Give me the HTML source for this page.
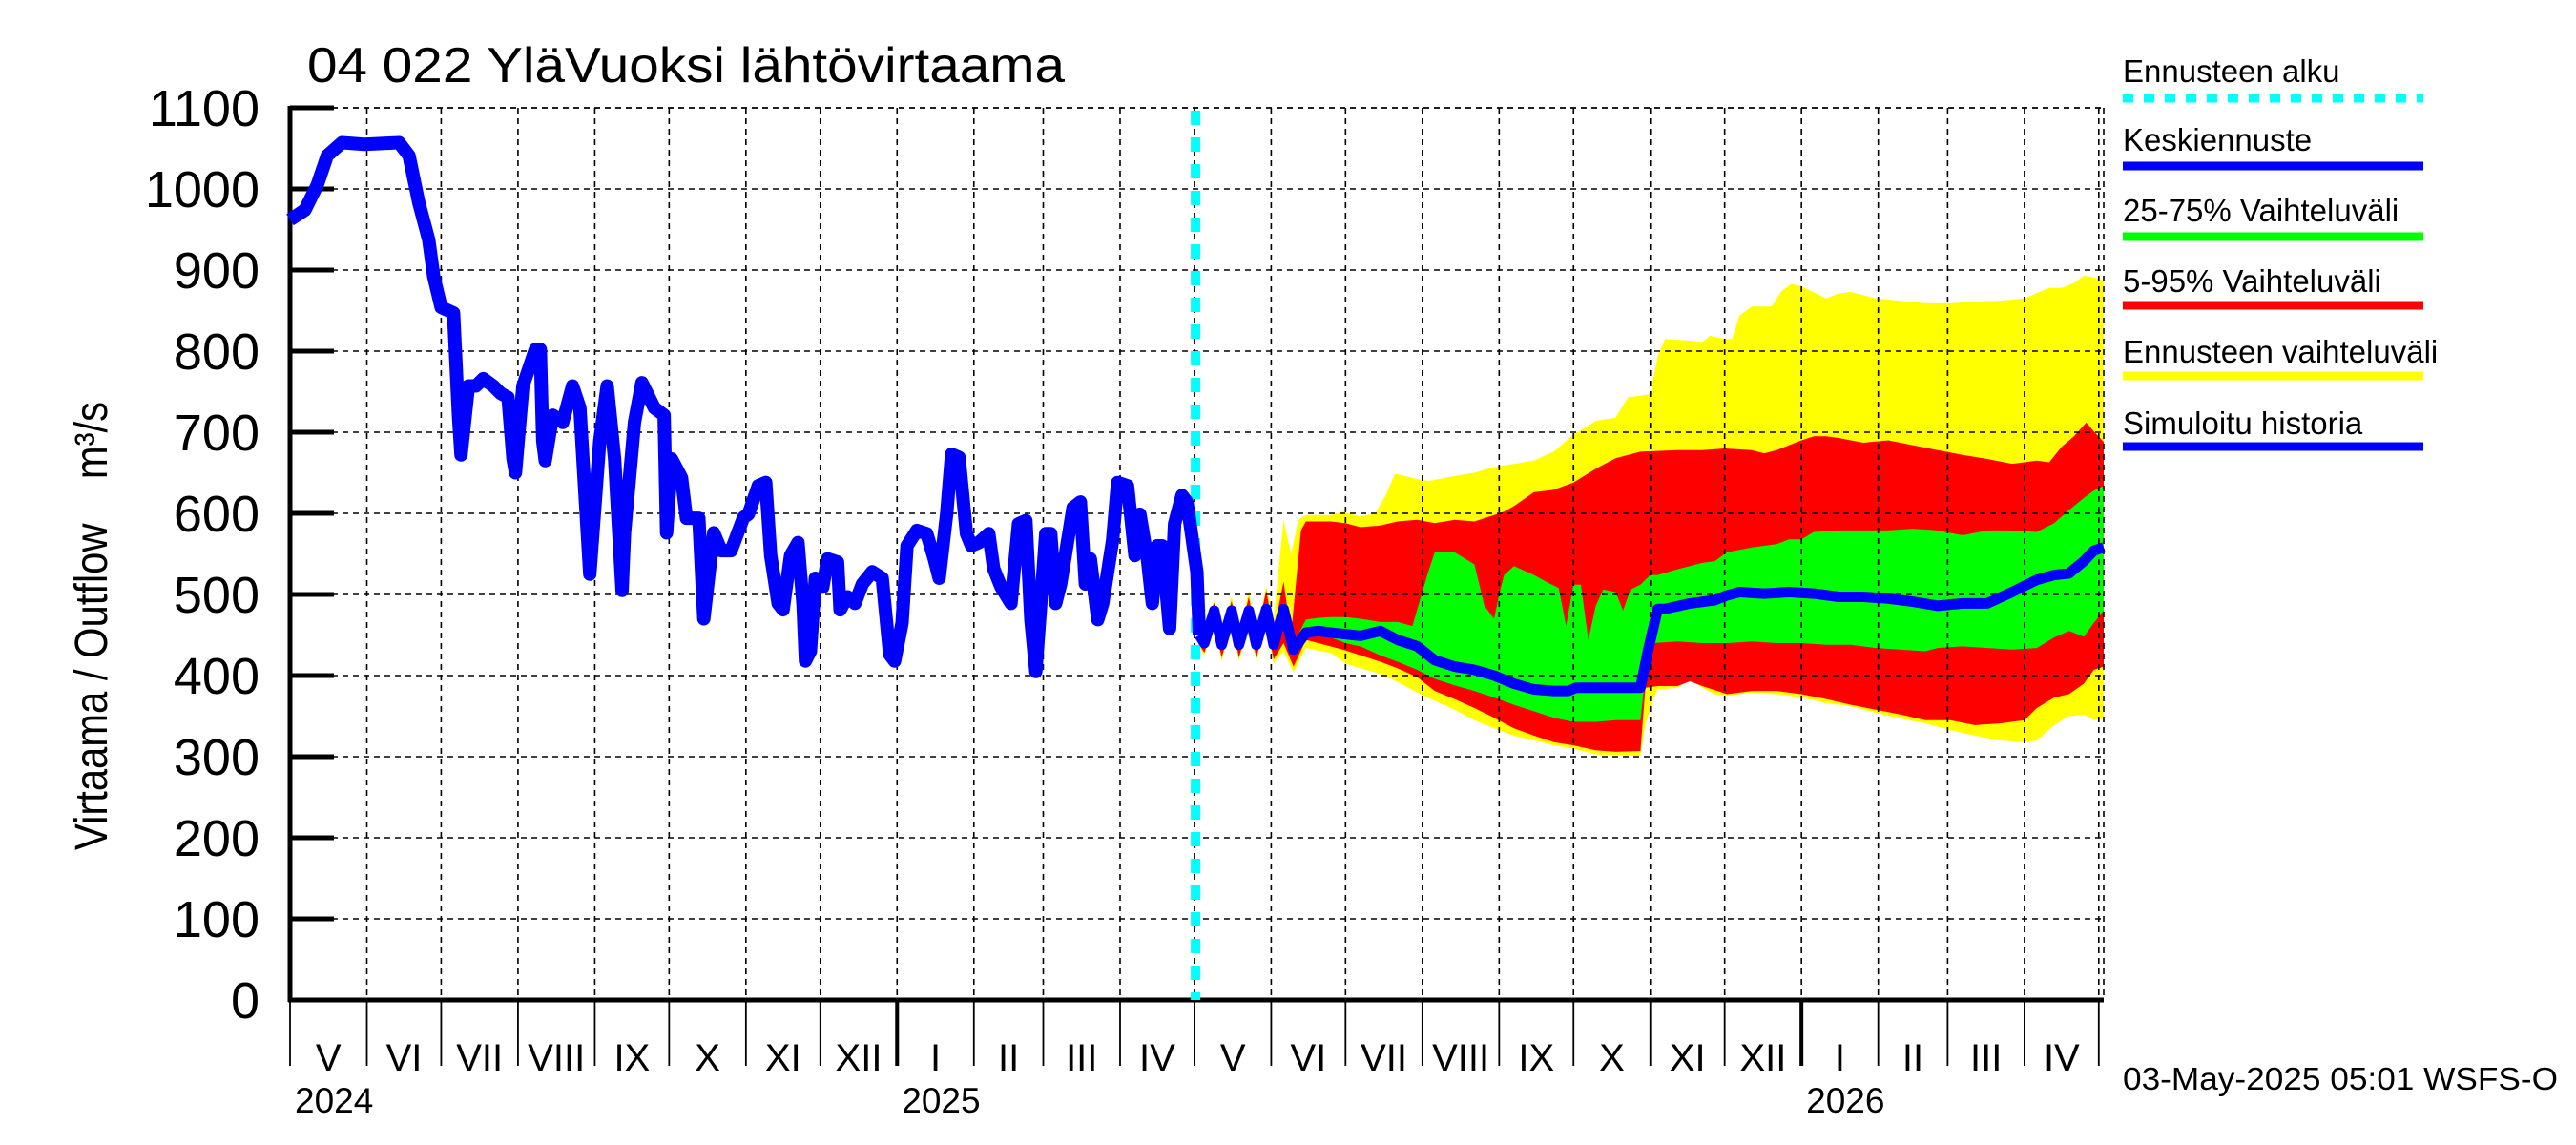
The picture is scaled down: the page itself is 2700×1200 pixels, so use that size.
<!DOCTYPE html>
<html><head><meta charset="utf-8"><style>
html,body{margin:0;padding:0;background:#fff;}
svg{display:block;font-family:"Liberation Sans",Arial,sans-serif;}
</style></head><body>
<svg id="chart" width="2700" height="1200" viewBox="0 0 2700 1200" xmlns="http://www.w3.org/2000/svg">
<rect x="0" y="0" width="2700" height="1200" fill="#fff"/>
<g id="bands"></g><g id="grid"></g><g id="axes"></g><g id="lines"></g>
<text x="322" y="86" font-size="52" textLength="794" lengthAdjust="spacingAndGlyphs">04 022 YläVuoksi lähtövirtaama</text>
<text transform="translate(112,656) rotate(-90)" text-anchor="middle" font-size="48" textLength="470" lengthAdjust="spacingAndGlyphs" style="white-space:pre" xml:space="preserve">Virtaama / Outflow    m³/s</text>
<g>
<text x="2225" y="86" font-size="33">Ennusteen alku</text>
<line x1="2225" y1="103" x2="2540" y2="103" stroke="#00ffff" stroke-width="9" stroke-dasharray="11,11"/>
<text x="2225" y="158" font-size="33">Keskiennuste</text>
<line x1="2225" y1="174" x2="2540" y2="174" stroke="#0000ff" stroke-width="9"/>
<text x="2225" y="232" font-size="33">25-75% Vaihteluväli</text>
<line x1="2225" y1="248" x2="2540" y2="248" stroke="#00ff00" stroke-width="9"/>
<text x="2225" y="306" font-size="33">5-95% Vaihteluväli</text>
<line x1="2225" y1="320" x2="2540" y2="320" stroke="#ff0000" stroke-width="9"/>
<text x="2225" y="380" font-size="33">Ennusteen vaihteluväli</text>
<line x1="2225" y1="394" x2="2540" y2="394" stroke="#ffff00" stroke-width="9"/>
<text x="2225" y="455" font-size="33">Simuloitu historia</text>
<line x1="2225" y1="468" x2="2540" y2="468" stroke="#0000ff" stroke-width="9"/>
</g>
<text x="2225" y="1142" font-size="33" textLength="456" lengthAdjust="spacingAndGlyphs">03-May-2025 05:01 WSFS-O</text>
</svg>
<script>
const yTicks = [0,100,200,300,400,500,600,700,800,900,1000,1100];
const monthLabels = ["V","VI","VII","VIII","IX","X","XI","XII","I","II","III","IV","V","VI","VII","VIII","IX","X","XI","XII","I","II","III","IV"];
const monthLengths = [31,30,31,31,30,31,30,31,31,28,31,30,31,30,31,31,30,31,30,31,31,28,31,30];
const yearLabels = ["2024","2025","2026"];
const yearMonthIdx = [0,8,20];
const forecastStartDay = 367;
const history = [[0,962],[6,974],[11,1005],[15,1041],[21,1057],[30,1055],[44,1057],[48,1041],[52,983],[56,937],[58,892],[61,854],[66,847],[68,720],[69,672],[72,757],[75,757],[78,766],[82,757],[85,748],[88,743],[90,667],[91,650],[94,757],[99,802],[101,802],[102,689],[103,665],[106,721],[110,712],[114,757],[117,730],[120,576],[121,525],[125,689],[128,757],[131,667],[134,505],[135,576],[139,712],[142,761],[147,730],[151,721],[152,576],[154,667],[158,644],[160,594],[165,594],[167,470],[171,576],[174,554],[178,554],[183,595],[185,599],[189,634],[192,638],[194,548],[197,489],[199,481],[202,548],[205,564],[207,489],[208,418],[210,430],[212,520],[215,509],[217,544],[221,540],[222,481],[225,497],[228,489],[231,513],[235,528],[239,520],[242,426],[244,418],[247,465],[249,560],[253,579],[257,575],[260,544],[262,520],[265,599],[267,673],[270,669],[273,575],[275,560],[278,564],[282,575],[284,532],[287,509],[291,489],[294,587],[297,591],[299,469],[301,405],[303,489],[305,575],[307,575],[309,489],[311,513],[316,607],[319,614],[321,513],[323,544],[326,469],[328,489],[332,567],[334,638],[338,634],[341,548],[343,599],[346,544],[348,489],[350,560],[352,560],[355,458],[357,587],[360,622],[362,614],[366,528],[367,450]];
const median = [[367,450],[369,440],[373,480],[376,438],[380,480],[383,438],[387,480],[390,438],[394,482],[397,438],[401,482],[405,432],[410,453],[415,455],[420,453],[426,451],[432,449],[440,455],[447,444],[455,436],[462,419],[470,411],[478,407],[486,400],[494,390],[502,383],[510,381],[516,381],[519,385],[545,385],[548,430],[552,482],[555,482],[565,489],[575,493],[580,499],[585,503],[595,501],[605,503],[615,501],[625,497],[635,497],[645,495],[655,491],[665,486],[675,489],[685,489],[695,503],[705,518],[712,524],[718,526],[724,541],[728,554],[732,558]];
const greenHigh = [[367,455],[369,446],[373,486],[376,444],[380,487],[383,444],[387,488],[390,444],[394,490],[397,444],[401,490],[405,440],[410,469],[415,471],[420,472],[426,472],[432,470],[440,466],[447,466],[453,461],[455,482],[459,524],[462,552],[470,552],[478,537],[482,486],[486,470],[488,500],[490,524],[494,535],[502,524],[508,514],[512,508],[515,461],[518,512],[521,512],[524,444],[527,486],[530,506],[535,503],[538,480],[541,506],[545,512],[549,524],[552,524],[560,531],[570,539],[575,541],[580,552],[590,558],[600,562],[605,568],[610,568],[615,577],[625,579],[635,579],[645,579],[655,581],[665,579],[675,573],[685,579],[695,579],[705,577],[712,588],[718,604],[724,619],[728,628],[732,634]];
const greenLow = [[367,445],[369,434],[373,474],[376,432],[380,473],[383,432],[387,472],[390,432],[394,474],[397,432],[401,474],[405,425],[410,449],[415,449],[420,447],[426,440],[432,436],[440,425],[447,417],[455,407],[462,396],[470,388],[478,381],[486,373],[494,364],[502,356],[510,348],[518,343],[527,343],[535,345],[545,345],[547,400],[550,440],[560,442],[570,440],[580,440],[590,442],[600,440],[610,440],[620,438],[630,438],[640,434],[650,432],[660,430],[665,434],[675,436],[685,434],[695,432],[705,434],[712,447],[718,455],[724,448],[728,465],[732,480]];
const redHigh = [[367,458],[369,450],[373,490],[376,448],[380,492],[383,448],[387,497],[390,448],[394,505],[397,455],[401,516],[404,450],[408,579],[410,590],[420,590],[426,588],[432,583],[440,585],[447,590],[455,592],[462,588],[470,592],[478,590],[486,598],[490,602],[494,609],[502,626],[510,629],[518,638],[527,655],[535,668],[545,676],[560,678],[570,678],[579,680],[590,678],[595,674],[600,678],[605,684],[610,690],[615,695],[620,695],[625,693],[635,687],[645,690],[655,684],[665,678],[675,672],[685,667],[695,661],[700,663],[705,665],[710,663],[715,682],[720,695],[725,712],[728,701],[732,688]];
const redLow = [[367,438],[369,428],[373,466],[376,422],[380,466],[383,422],[387,466],[390,422],[394,466],[397,420],[401,440],[405,411],[410,444],[420,436],[426,431],[432,425],[440,417],[447,409],[455,398],[462,381],[470,371],[478,360],[486,348],[494,335],[502,326],[510,318],[518,314],[527,308],[535,306],[545,307],[547,385],[552,387],[560,387],[565,393],[570,387],[580,377],[590,381],[600,381],[610,377],[620,371],[630,364],[640,358],[650,352],[660,345],[670,345],[680,339],[690,341],[700,345],[705,360],[712,373],[718,377],[724,390],[728,407],[732,411]];
const rangeHigh = [[367,460],[369,452],[373,494],[376,450],[380,498],[383,450],[387,505],[390,450],[394,510],[397,470],[401,592],[404,550],[407,592],[410,598],[420,598],[425,602],[432,596],[438,600],[442,621],[446,649],[455,642],[460,640],[470,646],[478,650],[486,657],[494,661],[502,665],[510,676],[518,697],[527,714],[535,718],[540,743],[545,745],[549,747],[552,794],[555,815],[565,813],[570,811],[573,819],[579,815],[582,815],[585,844],[590,855],[598,855],[602,874],[606,883],[610,880],[620,865],[625,871],[630,873],[640,865],[650,862],[660,859],[670,859],[680,861],[690,862],[700,865],[710,878],[715,878],[720,884],[724,893],[728,891],[732,887]];
const rangeLow = [[367,435],[369,425],[373,462],[376,418],[380,462],[383,418],[387,462],[390,418],[394,462],[397,415],[401,430],[405,404],[410,434],[420,428],[426,415],[432,409],[440,402],[447,392],[455,379],[462,369],[470,358],[478,345],[486,335],[494,326],[502,320],[510,314],[518,310],[527,303],[535,302],[545,301],[547,340],[550,369],[552,383],[560,385],[565,396],[570,385],[575,377],[580,375],[590,379],[600,377],[610,373],[620,366],[630,362],[640,354],[650,347],[660,341],[670,333],[680,326],[690,320],[700,318],[705,320],[712,339],[718,350],[724,352],[728,345],[732,347]];

const NS = "http://www.w3.org/2000/svg";
const X0 = 304, X1 = 2205, Y0 = 1048, Y1 = 113, DMAX = 732, VMAX = 1100;
function xs(d){ return X0 + d * (X1 - X0) / DMAX; }
function ys(v){ return Y0 - v * (Y0 - Y1) / VMAX; }
function mk(tag, attrs, parent){ const e = document.createElementNS(NS, tag); for (const k in attrs) e.setAttribute(k, attrs[k]); parent.appendChild(e); return e; }
function pts(arr){ return arr.map(p => xs(p[0]).toFixed(1) + "," + ys(p[1]).toFixed(1)).join(" "); }

const gBands = document.getElementById("bands");
const gGrid = document.getElementById("grid");
const gAxes = document.getElementById("axes");
const gLines = document.getElementById("lines");

function band(hi, lo, color, name){
  const poly = mk("polygon", {points: pts(hi) + " " + pts(lo.slice().reverse()), fill: color}, gBands);
  
  
}
band(rangeHigh, rangeLow, "#ffff00", "forecast-range-band");
band(redHigh, redLow, "#ff0000", "band-5-95");
band(greenHigh, greenLow, "#00ff00", "band-25-75");

yTicks.forEach(v => {
  const y = ys(v);
  if (v > 0) {
    const gl = mk("line", {x1: X0, y1: y, x2: X1, y2: y, stroke: "#000", "stroke-width": 1.6, "stroke-dasharray": "6,5"}, gGrid);
    
    
    const tk = mk("line", {x1: X0, y1: y, x2: 350, y2: y, stroke: "#000", "stroke-width": 5}, gAxes);
    
    
  }
  const t = mk("text", {x: 272, y: y + 19, "text-anchor": "end", "font-size": 54}, gAxes);
  t.textContent = String(v);
  
  
});

let day = 0;
const starts = [];
monthLengths.forEach((len, i) => {
  starts.push(day);
  const xa = xs(day), xb = xs(day + len);
  if (i > 0) {
    const gl = mk("line", {x1: xa, y1: Y1, x2: xa, y2: Y0, stroke: "#000", "stroke-width": 1.6, "stroke-dasharray": "6,5"}, gGrid);
    
    
  }
  const isYear = yearMonthIdx.indexOf(i) > 0;
  const tk = mk("line", {x1: xa, y1: Y0, x2: xa, y2: 1117, stroke: "#000", "stroke-width": isYear ? 4 : 1.8}, gAxes);
  
  
  const t = mk("text", {x: (xa + xb) / 2, y: 1122, "text-anchor": "middle", "font-size": 40}, gAxes);
  t.textContent = monthLabels[i];
  
  
  day += len;
});
{
  const xe = xs(day);
  const gl = mk("line", {x1: xe, y1: Y1, x2: xe, y2: Y0, stroke: "#000", "stroke-width": 1.6, "stroke-dasharray": "6,5"}, gGrid);
  
  
  const tk = mk("line", {x1: xe, y1: Y0, x2: xe, y2: 1117, stroke: "#000", "stroke-width": 1.8}, gAxes);
  
  
}
yearLabels.forEach((yl, i) => {
  const t = mk("text", {x: xs(starts[yearMonthIdx[i]]) + 5, y: 1166, "font-size": 37}, gAxes);
  t.textContent = yl;
  
  
});
const topF = mk("line", {x1: X0, y1: Y1, x2: X1, y2: Y1, stroke: "#000", "stroke-width": 1.6, "stroke-dasharray": "6,5"}, gGrid);


const rightF = mk("line", {x1: X1, y1: Y1, x2: X1, y2: Y0, stroke: "#000", "stroke-width": 1.6, "stroke-dasharray": "6,5"}, gGrid);


const xAxis = mk("line", {x1: X0 - 2, y1: Y0, x2: X1, y2: Y0, stroke: "#000", "stroke-width": 5}, gAxes);


const yAxis = mk("line", {x1: X0, y1: Y1 - 2, x2: X0, y2: Y0 + 2, stroke: "#000", "stroke-width": 5}, gAxes);



const fs = mk("line", {x1: xs(forecastStartDay) - 4, y1: Y1 + 3, x2: xs(forecastStartDay) - 4, y2: Y0, stroke: "#00ffff", "stroke-width": 10, "stroke-dasharray": "15,13"}, gLines);



const hl = mk("polyline", {points: pts(history), fill: "none", stroke: "#0000ff", "stroke-width": 14, "stroke-linejoin": "round"}, gLines);


const ml = mk("polyline", {points: pts(median), fill: "none", stroke: "#0000ff", "stroke-width": 11, "stroke-linejoin": "round"}, gLines);


</script>
</body></html>
